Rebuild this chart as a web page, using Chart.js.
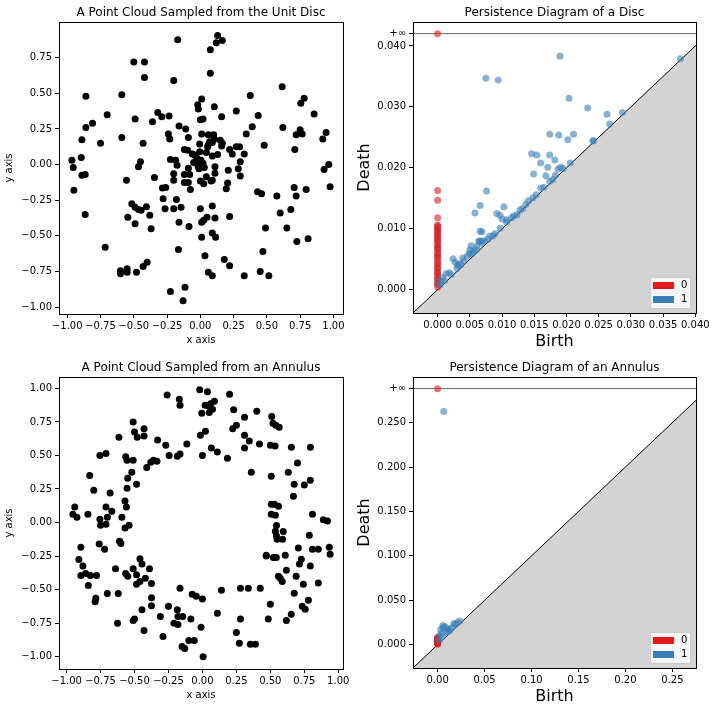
<!DOCTYPE html>
<html>
<head>
<meta charset="utf-8">
<title>Point clouds and persistence diagrams</title>
<script src="https://cdn.jsdelivr.net/npm/chart.js@4.4.1/dist/chart.umd.min.js"></script>
<style>
  html, body { margin: 0; padding: 0; background: #fff; }
  #fig { position: relative; width: 715px; height: 712px; }
  canvas { position: absolute; }
</style>
</head>
<body>
<div id="fig">
  <canvas id="discCloud" width="357" height="355" style="left:0;top:0"></canvas>
  <canvas id="discDiagram" width="360" height="355" style="left:355px;top:0"></canvas>
  <canvas id="annulusCloud" width="357" height="355" style="left:0;top:355px"></canvas>
  <canvas id="annulusDiagram" width="360" height="355" style="left:355px;top:355px"></canvas>
</div>
<script>
/* ===== data: point clouds, [x, y] ===== */
const discCloud = [
  [-0.17,0.875],[-0.50,0.72],[-0.42,0.72],[-0.42,0.61],[-0.20,0.59],[-0.86,0.48],[-0.59,0.49],[0.01,0.46],
  [-0.02,0.42],[-0.015,0.39],[-0.70,0.35],[-0.49,0.32],[-0.32,0.365],[-0.29,0.335],[-0.235,0.34],[-0.36,0.30],
  [-0.81,0.29],[-0.86,0.26],[-0.16,0.27],[-0.11,0.25],[0.0,0.315],[0.02,0.32],[-0.89,0.175],[-0.75,0.15],
  [-0.59,0.19],[-0.43,0.15],[-0.24,0.215],[-0.23,0.18],[-0.09,0.19],[0.01,0.215],[-0.005,0.145],[-0.965,0.03],
  [-0.955,-0.02],[-0.895,0.05],[-0.89,-0.075],[-0.865,-0.07],[-0.95,-0.18],[-0.865,-0.35],[-0.555,-0.11],[-0.45,0.02],
  [-0.465,-0.015],[-0.345,-0.09],[-0.225,0.035],[-0.185,0.03],[-0.175,-0.005],[-0.20,-0.065],[-0.20,-0.11],[-0.12,0.105],
  [-0.095,0.10],[-0.06,0.075],[-0.04,0.065],[-0.12,-0.07],[-0.12,-0.125],[-0.09,-0.125],[-0.075,-0.175],[-0.08,-0.07],
  [-0.09,-0.025],[-0.05,0.015],[-0.03,0.01],[-0.015,-0.015],[0.0,-0.02],[0.0,-0.115],[0.0,-0.31],[0.01,-0.405],
  [0.01,-0.51],[-0.285,-0.165],[-0.26,-0.16],[-0.28,-0.24],[-0.265,-0.31],[-0.20,-0.31],[-0.18,-0.245],[-0.145,-0.30],
  [-0.16,-0.405],[-0.085,-0.435],[-0.515,-0.275],[-0.49,-0.30],[-0.465,-0.315],[-0.445,-0.32],[-0.405,-0.295],[-0.545,-0.37],
  [-0.49,-0.415],[-0.38,-0.355],[-0.37,-0.45],[-0.165,-0.595],[-0.715,-0.58],[-0.60,-0.745],[-0.60,-0.765],[-0.55,-0.73],
  [-0.55,-0.755],[-0.48,-0.755],[-0.43,-0.715],[-0.40,-0.685],[-0.225,-0.89],[-0.115,-0.86],[-0.13,-0.955],
  [0.13,0.905],[0.12,0.855],[0.165,0.87],[0.075,0.805],[0.075,0.64],[0.615,0.545],[0.375,0.485],[0.105,0.405],
  [0.27,0.375],[0.16,0.335],[0.435,0.345],[0.78,0.465],[0.755,0.43],[0.855,0.355],[0.39,0.265],[0.62,0.26],
  [0.345,0.215],[0.75,0.245],[0.72,0.21],[0.765,0.215],[0.945,0.225],[0.92,0.18],[0.71,0.105],[0.48,0.135],
  [0.22,0.105],[0.24,0.075],[0.27,0.125],[0.295,0.125],[0.33,0.075],[0.30,0.02],[0.285,-0.03],[0.30,-0.08],
  [0.21,-0.04],[0.205,-0.13],[0.195,-0.17],[0.11,-0.015],[0.11,-0.06],[0.02,0.01],[0.045,-0.085],[0.09,-0.11],
  [0.025,-0.135],[0.08,-0.115],[0.93,-0.035],[0.965,0.0],[0.975,-0.155],[0.43,-0.19],[0.46,-0.205],[0.575,-0.22],
  [0.705,-0.16],[0.72,-0.22],[0.795,-0.175],[0.09,-0.29],[0.11,-0.375],[0.05,-0.37],[0.025,-0.39],[0.22,-0.365],
  [0.60,-0.34],[0.68,-0.315],[0.09,-0.48],[0.115,-0.51],[0.49,-0.445],[0.65,-0.445],[0.725,-0.54],[0.81,-0.52],
  [0.035,-0.64],[0.18,-0.665],[0.22,-0.71],[0.47,-0.61],[0.06,-0.755],[0.09,-0.78],[0.33,-0.78],[0.45,-0.75],
  [0.515,-0.78],[0.06,0.21],[0.10,0.21],[0.105,0.18],[0.07,0.16],[0.055,0.125],[0.09,0.155],[0.15,0.17],
  [0.165,0.15],[0.16,0.13],[0.06,0.14],[0.13,0.07],[0.09,0.06],[0.045,0.085],[-0.005,0.09],[-0.025,0.045],
  [0.005,-0.005],[0.015,0.005],[-0.01,-0.03],[0.03,-0.02],[0.005,0.03],[-0.01,0.0]
];

const annulusCloud = [
  [-0.02,0.99],[-0.26,0.95],[-0.17,0.92],[-0.165,0.875],[-0.005,0.815],[-0.51,0.75],[-0.43,0.70],[-0.50,0.675],
  [-0.48,0.635],[-0.43,0.645],[-0.615,0.635],[-0.33,0.615],[-0.27,0.577],[-0.115,0.585],[-0.015,0.65],[-0.755,0.50],
  [-0.71,0.515],[-0.565,0.49],[-0.555,0.465],[-0.51,0.465],[-0.245,0.50],[-0.185,0.495],[-0.165,0.51],[0.0,0.50],
  [-0.41,0.41],[-0.38,0.45],[-0.36,0.465],[-0.335,0.457],[-0.83,0.35],[-0.55,0.33],[-0.52,0.375],[-0.80,0.24],
  [-0.68,0.22],[-0.485,0.285],[-0.555,0.255],[-0.57,0.16],[-0.56,0.115],[-0.94,0.115],[-0.71,0.115],[-0.667,0.085],
  [-0.954,0.062],[-0.924,0.04],[-0.843,0.062],[-0.70,0.04],[-0.755,0.025],[-0.593,0.04],[-0.75,-0.02],[-0.71,-0.013],
  [-0.54,-0.02],[-0.57,-0.04],[-0.61,-0.14],[-0.60,-0.157],[-0.895,-0.185],[-0.76,-0.16],[-0.72,-0.20],[-0.91,-0.275],
  [-0.88,-0.325],[-0.895,-0.395],[-0.86,-0.38],[-0.825,-0.395],[-0.78,-0.395],[-0.84,-0.47],[-0.785,-0.565],[-0.79,-0.59],
  [-0.70,-0.53],[-0.62,-0.53],[-0.64,-0.345],[-0.565,-0.38],[-0.55,-0.40],[-0.51,-0.345],[-0.485,-0.39],[-0.485,-0.46],
  [-0.46,-0.27],[-0.445,-0.31],[-0.46,-0.44],[-0.42,-0.415],[-0.39,-0.345],[-0.375,-0.455],[-0.375,-0.56],[-0.375,-0.62],
  [-0.445,-0.65],[-0.625,-0.75],[-0.51,-0.73],[-0.50,-0.72],[-0.43,-0.805],[-0.31,-0.70],[-0.29,-0.85],[-0.25,-0.625],
  [-0.185,-0.65],[-0.18,-0.70],[-0.145,-0.70],[-0.21,-0.75],[-0.18,-0.76],[-0.165,-0.49],[-0.085,-0.72],[-0.075,-0.535],
  [-0.045,-0.55],[0.0,-0.57],[-0.01,-0.78],[-0.10,-0.88],[-0.06,-0.88],[-0.15,-0.925],[-0.13,-0.94],[0.005,-1.0],
  [0.037,0.975],[0.20,0.957],[0.088,0.905],[0.06,0.885],[0.044,0.87],[0.02,0.875],[0.074,0.845],[0.05,0.82],
  [0.23,0.84],[0.40,0.83],[0.31,0.785],[0.51,0.79],[0.223,0.70],[0.25,0.725],[0.52,0.74],[0.54,0.725],
  [0.565,0.71],[0.022,0.68],[0.31,0.65],[0.345,0.607],[0.31,0.555],[0.42,0.585],[0.50,0.577],[0.535,0.57],
  [0.655,0.562],[0.795,0.562],[0.066,0.555],[0.11,0.525],[0.184,0.48],[0.70,0.443],[0.36,0.375],[0.507,0.345],
  [0.632,0.375],[0.676,0.286],[0.75,0.28],[0.794,0.316],[0.67,0.196],[0.507,0.137],[0.53,0.137],[0.56,0.122],
  [0.507,0.062],[0.537,0.055],[0.81,0.062],[0.89,0.02],[0.92,0.012],[0.545,-0.022],[0.537,-0.065],[0.595,-0.067],
  [0.545,-0.10],[0.59,-0.125],[0.55,-0.125],[0.787,-0.095],[0.706,-0.19],[0.81,-0.20],[0.853,-0.20],[0.934,-0.185],
  [0.94,-0.236],[0.47,-0.244],[0.47,-0.25],[0.522,-0.26],[0.544,-0.26],[0.61,-0.244],[0.728,-0.274],[0.714,-0.31],
  [0.794,-0.325],[0.618,-0.356],[0.56,-0.40],[0.573,-0.415],[0.588,-0.44],[0.69,-0.40],[0.743,-0.46],[0.853,-0.45],
  [0.28,-0.49],[0.338,-0.49],[0.426,-0.49],[0.14,-0.505],[0.676,-0.527],[0.50,-0.61],[0.78,-0.58],[0.735,-0.625],
  [0.757,-0.647],[0.11,-0.677],[0.28,-0.72],[0.485,-0.72],[0.618,-0.73],[0.654,-0.684],[0.25,-0.82],[0.272,-0.90],
  [0.353,-0.908],[0.39,-0.908]
];

const discXRange = [-1.062, 1.072];
const discYRange = [-1.048, 1.0];
const annulusXRange = [-1.056, 1.035];
const annulusYRange = [-1.092, 1.085];
const cloudXTicks = [-1, -0.75, -0.5, -0.25, 0, 0.25, 0.5, 0.75, 1];
const discYTicks = [-1, -0.75, -0.5, -0.25, 0, 0.25, 0.5, 0.75];
const annulusYTicks = [-1, -0.75, -0.5, -0.25, 0, 0.25, 0.5, 0.75, 1];

/* ===== data: persistence diagrams ===== */
// H0 classes are all born at 0 -> only deaths
const discH0Death = [
  0.0004, 0.0009, 0.0011, 0.0016, 0.0019, 0.0023, 0.0027, 0.0029, 0.0034, 0.0037, 0.0041, 0.0044,
  0.0048, 0.0052, 0.0055, 0.0058, 0.0061, 0.0066, 0.0069, 0.0071, 0.0075, 0.0079, 0.0082, 0.0085,
  0.0088, 0.0091, 0.0094, 0.0097, 0.0099, 0.0102, 0.0104, 0.0106, 0.0118, 0.0147, 0.0163
];
const discH0InfBirth = [0];
// H1 classes [birth, death]
const discH1 = [
  [0.0190,0.0383],[0.0075,0.0347],[0.0094,0.0344],[0.0204,0.0314],[0.0233,0.0298],[0.0263,0.0288],[0.0287,0.0291],
  [0.0267,0.0272],[0.0377,0.0379],[0.0174,0.0255],[0.0188,0.0254],[0.0211,0.0255],[0.0202,0.0246],[0.0241,0.0244],
  [0.0146,0.0223],[0.0154,0.0221],[0.0174,0.0221],[0.0160,0.0208],[0.0182,0.0213],[0.0171,0.0201],[0.0191,0.0201],
  [0.0187,0.0198],[0.0149,0.0190],[0.0168,0.0187],[0.0183,0.0188],[0.0174,0.0178],[0.0160,0.0167],[0.0076,0.0162],
  [0.0132,0.0133],[0.0141,0.0146],[0.0148,0.0151],[0.0058,0.0126],[0.0066,0.0138],[0.0103,0.0136],[0.0092,0.0125],
  [0.0097,0.0122],[0.0100,0.0116],[0.0107,0.0115],[0.0115,0.0118],[0.0123,0.0123],[0.0066,0.0096],[0.0069,0.0095],
  [0.0086,0.0088],[0.0097,0.0101],[0.0064,0.0079],[0.0073,0.0080],[0.0052,0.0072],[0.0050,0.0065],[0.0049,0.0059],
  [0.0039,0.0052],[0.0024,0.0051],[0.0027,0.0045],[0.0033,0.0042],[0.0018,0.0028],[0.0013,0.0026],[0.0008,0.0020],
  [0.0005,0.0013],[0.0004,0.0008],[0.0011,0.0015],[0.0021,0.0025],[0.0030,0.0035],[0.0041,0.0047],[0.0046,0.0055],
  [0.0056,0.0063],[0.0061,0.0071],[0.0069,0.0076],[0.0078,0.0083],[0.0081,0.0088],[0.0089,0.0092],[0.0107,0.0111],
  [0.0118,0.0121],[0.0128,0.0131],[0.0137,0.0140],[0.0153,0.0156],[0.0165,0.0168],[0.0179,0.0181],[0.0195,0.0199],
  [0.0206,0.0208],[0.0242,0.0245],[0.0031,0.0040],[0.0036,0.0041],[0.0054,0.0060],[0.0060,0.0066],[0.0068,0.0080],
  [0.0065,0.0080]
];
const discAxisRange = [-0.00382, 0.04011];
const discInfinity = 0.04202;
const discDeathMax = 0.04393;
const discBirthTicks = [0, 0.005, 0.01, 0.015, 0.02, 0.025, 0.03, 0.035, 0.04];
const discDeathTicks = [0, 0.01, 0.02, 0.03, 0.04];

const annulusH0Death = [
  0.0005, 0.0012, 0.0018, 0.0022, 0.0027, 0.0031, 0.0036, 0.0040, 0.0043,
  0.0047, 0.0051, 0.0054, 0.0058, 0.0061, 0.0066, 0.0070, 0.0075, 0.0080
];
const annulusH0InfBirth = [0];
const annulusH1 = [
  [0.0066,0.2624],[0.0056,0.0217],[0.0172,0.0236],[0.0235,0.0268],[0.0109,0.0180],[0.0032,0.0172],
  [0.0080,0.0203],[0.0130,0.0164],[0.0208,0.0248],[0.0187,0.0229],[0.0060,0.0190],[0.0020,0.0100],
  [0.0040,0.0130],[0.0090,0.0140],[0.0015,0.0050],[0.0110,0.0150],[0.0150,0.0190],[0.0050,0.0090]
];
const annulusAxisRange = [-0.0262, 0.2751];
const annulusInfinity = 0.2882;
const annulusDeathMax = 0.3013;
const annulusBirthTicks = [0, 0.05, 0.1, 0.15, 0.2, 0.25];
const annulusDeathTicks = [0, 0.05, 0.1, 0.15, 0.2, 0.25];

const dimLabels = ['0', '1'];
const dimColors = ['#e41a1c', '#377eb8'];
const dimColorsAlpha = ['rgba(228,26,28,0.6)', 'rgba(55,126,184,0.6)'];

/* ===== helpers ===== */
Chart.defaults.font.family = "'DejaVu Sans', sans-serif";
Chart.defaults.font.size = 10;
Chart.defaults.color = '#000';
Chart.defaults.animation = false;

function signed(v, digits) {
  return (v < 0 ? '\u2212' : '') + Math.abs(v).toFixed(digits);
}

function toXY(pairs) {
  return pairs.map(([x, y]) => ({ x, y }));
}

// axis with fixed size so the plotting box matches the original figure
function makeAxis(o) {
  return {
    type: 'linear',
    min: o.min,
    max: o.max,
    afterBuildTicks: s => { s.ticks = o.ticks.map(v => ({ value: v })); },
    afterFit: s => {
      if (s.isHorizontal()) s.height = o.size; else s.width = o.size;
      s.paddingLeft = 0; s.paddingRight = 0; s.paddingTop = 0; s.paddingBottom = 0;
    },
    grid: { drawOnChartArea: false, drawTicks: true, tickLength: 4, color: '#000', lineWidth: 1 },
    border: { display: false },
    ticks: {
      autoSkip: false, maxRotation: 0, minRotation: 0, padding: o.tickPad,
      color: '#000', font: { size: 10 }, callback: o.fmt
    },
    title: {
      display: true, text: o.title, color: '#000',
      font: { size: o.titleSize }, padding: o.titlePad
    }
  };
}

const framePlugin = {
  id: 'frame',
  afterDatasetsDraw(chart) {
    const { ctx, chartArea: a } = chart;
    ctx.save();
    ctx.strokeStyle = '#000';
    ctx.lineWidth = 1;
    ctx.strokeRect(a.left + 0.5, a.top + 0.5, a.right - a.left, a.bottom - a.top);
    ctx.restore();
  }
};

const legendPlugin = {
  id: 'cornerLegend',
  afterDraw(chart, args, opts) {
    if (!opts || !opts.items) return;
    const { ctx, chartArea: a } = chart;
    const w = 40, h = 31;
    const x0 = Math.round(a.right - 6 - w), y0 = Math.round(a.bottom - 5 - h);
    ctx.save();
    ctx.fillStyle = 'rgba(255,255,255,0.8)';
    ctx.strokeStyle = '#cccccc';
    ctx.lineWidth = 1;
    ctx.beginPath();
    if (ctx.roundRect) ctx.roundRect(x0 + 0.5, y0 + 0.5, w, h, 2); else ctx.rect(x0 + 0.5, y0 + 0.5, w, h);
    ctx.fill();
    ctx.stroke();
    ctx.font = "10px 'DejaVu Sans', sans-serif";
    ctx.textBaseline = 'middle';
    opts.items.forEach((it, i) => {
      const cy = y0 + 8.5 + i * 14;
      ctx.fillStyle = it.color;
      ctx.fillRect(x0 + 3, cy - 3.5, 21, 7);
      ctx.fillStyle = '#000';
      ctx.fillText(it.label, x0 + 31, cy);
    });
    ctx.restore();
  }
};

function titleOpts(text) {
  return {
    display: true, text, fullSize: false, color: '#000',
    font: { size: 12, weight: 'normal' }, padding: { top: 5.4, bottom: 2.2 }
  };
}

function pointSet(data, color) {
  return {
    data, backgroundColor: color, borderColor: color,
    pointRadius: 3.5, pointHoverRadius: 3.5, pointBorderWidth: 0
  };
}

/* ===== point clouds ===== */
function buildCloud(id, title, pts, xRange, yRange, yTicks) {
  new Chart(document.getElementById(id), {
    type: 'scatter',
    data: { datasets: [pointSet(toXY(pts), '#000')] },
    options: {
      responsive: false,
      events: [],
      layout: { padding: { left: 0, top: 0, right: 14, bottom: 0 } },
      plugins: { legend: { display: false }, tooltip: { enabled: false }, title: titleOpts(title) },
      scales: {
        x: makeAxis({ min: xRange[0], max: xRange[1], ticks: cloudXTicks, size: 41, tickPad: 2,
                      fmt: v => signed(v, 2), title: 'x axis', titleSize: 10, titlePad: { top: 0, bottom: 9 } }),
        y: makeAxis({ min: yRange[0], max: yRange[1], ticks: yTicks, size: 59, tickPad: 3,
                      fmt: v => signed(v, 2), title: 'y axis', titleSize: 10, titlePad: { top: 3, bottom: 0 } })
      }
    },
    plugins: [framePlugin]
  });
}

/* ===== persistence diagrams ===== */
function buildDiagram(id, title, h0Death, h0Inf, h1, axisRange, infinity, deathMax, xTicks, yTicks, xDigits, yDigits) {
  const h0 = h0Death.map(d => ({ x: 0, y: d })).concat(h0Inf.map(b => ({ x: b, y: infinity })));
  new Chart(document.getElementById(id), {
    type: 'scatter',
    data: {
      datasets: [
        pointSet(toXY(h1), dimColorsAlpha[1]),
        pointSet(h0, dimColorsAlpha[0]),
        {
          type: 'line',
          data: [{ x: axisRange[0], y: infinity }, { x: axisRange[1], y: infinity }],
          borderColor: 'rgba(0,0,0,0.6)', borderWidth: 1, pointRadius: 0, fill: false, tension: 0
        },
        {
          type: 'line',
          data: [{ x: axisRange[0], y: axisRange[0] }, { x: axisRange[1], y: axisRange[1] }],
          borderColor: '#000', borderWidth: 1, pointRadius: 0, tension: 0,
          fill: 'start', backgroundColor: '#d3d3d3'
        }
      ]
    },
    options: {
      responsive: false,
      events: [],
      layout: { padding: { left: 0, top: 0, right: 19, bottom: 0 } },
      plugins: {
        legend: { display: false }, tooltip: { enabled: false }, title: titleOpts(title),
        cornerLegend: { items: dimLabels.map((l, i) => ({ label: l, color: dimColors[i] })) }
      },
      scales: {
        x: makeAxis({ min: axisRange[0], max: axisRange[1], ticks: xTicks, size: 42, tickPad: 2,
                      fmt: v => v.toFixed(xDigits), title: 'Birth', titleSize: 16, titlePad: { top: 0, bottom: 3.7 } }),
        y: makeAxis({ min: axisRange[0], max: deathMax, ticks: yTicks.concat([infinity]), size: 58, tickPad: 3,
                      fmt: v => (v === infinity ? '+\u221e' : v.toFixed(yDigits)),
                      title: 'Death', titleSize: 16, titlePad: { top: 0, bottom: 0 } })
      }
    },
    plugins: [framePlugin, legendPlugin]
  });
}

buildCloud('discCloud', 'A Point Cloud Sampled from the Unit Disc', discCloud, discXRange, discYRange, discYTicks);
buildCloud('annulusCloud', 'A Point Cloud Sampled from an Annulus', annulusCloud, annulusXRange, annulusYRange, annulusYTicks);
buildDiagram('discDiagram', 'Persistence Diagram of a Disc', discH0Death, discH0InfBirth, discH1,
             discAxisRange, discInfinity, discDeathMax, discBirthTicks, discDeathTicks, 3, 3);
buildDiagram('annulusDiagram', 'Persistence Diagram of an Annulus', annulusH0Death, annulusH0InfBirth, annulusH1,
             annulusAxisRange, annulusInfinity, annulusDeathMax, annulusBirthTicks, annulusDeathTicks, 2, 3);
</script>
</body>
</html>
